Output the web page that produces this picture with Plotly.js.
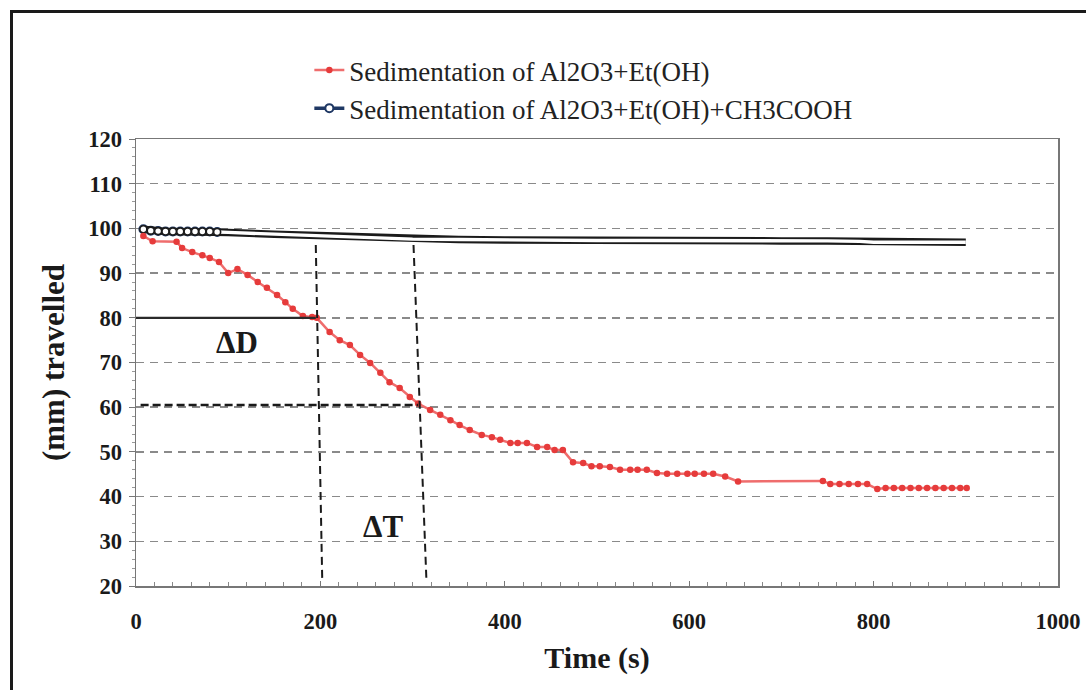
<!DOCTYPE html>
<html>
<head>
<meta charset="utf-8">
<script src="https://cdn.plot.ly/plotly-3.0.1.min.js"></script>
<style>
  html, body { margin: 0; padding: 0; background: #fff; }
  #chart { width: 1086px; height: 690px; }
</style>
</head>
<body>
<div id="chart"></div>
<script>
// ---- Data ----
const seriesNames = ["Sedimentation of Al2O3+Et(OH)", "Sedimentation of Al2O3+Et(OH)+CH3COOH"];

const redTime = [8, 18, 44, 50, 61, 72, 80, 90, 100, 110, 121, 132, 142, 153, 162, 170, 181, 191, 196,
  210, 221, 232, 243, 254, 265, 275, 286, 297, 306, 319, 330, 341, 351, 362, 375, 386, 395, 406, 414, 424,
  435, 446, 454, 463, 474, 485, 494, 503, 514, 525, 536, 544, 554, 565, 576, 587, 598, 606, 616, 626,
  639, 653, 745, 753, 763, 773, 783, 793, 804, 813, 822, 831, 840, 849, 858, 867, 876, 885, 894, 901];
const redDist = [98.3, 97.1, 97.0, 95.6, 94.7, 94.0, 93.4, 92.5, 90.0, 90.9, 89.6, 88.0, 86.7, 85.1, 83.5, 82.0, 80.4, 80.2, 80.0,
  76.8, 75.0, 73.9, 71.7, 69.9, 67.7, 65.6, 64.3, 62.3, 60.8, 59.4, 58.3, 57.1, 56.0, 54.9, 53.8, 53.3, 52.7, 52.0, 52.0, 52.0,
  51.1, 51.1, 50.4, 50.4, 47.7, 47.5, 46.8, 46.8, 46.6, 46.0, 46.0, 46.0, 46.0, 45.3, 45.1, 45.1, 45.1, 45.1, 45.1, 45.1,
  44.5, 43.4, 43.5, 42.8, 42.8, 42.8, 42.8, 42.8, 41.7, 41.9, 41.9, 41.9, 41.9, 41.9, 41.9, 41.9, 41.9, 41.9, 41.9, 41.9];

const acidTime = [8, 16, 24, 32, 40, 48, 56, 64, 72, 80, 88, 100, 150, 200, 250, 300, 350, 400, 450, 500,
  550, 600, 650, 700, 750, 785, 800, 850, 900];
const acidDist = [99.8, 99.5, 99.4, 99.3, 99.3, 99.3, 99.3, 99.3, 99.3, 99.3, 99.2, 99.1, 98.7, 98.3, 97.9, 97.6, 97.5, 97.4, 97.3, 97.3,
  97.3, 97.3, 97.2, 97.2, 97.2, 97.1, 96.9, 96.9, 96.9];
const acidMarkedCount = 11; // open circles drawn at the start of the acid series

// guide lines drawn on the chart (ΔD / ΔT construction)
const guideLevelD = 80;
const guideLevelT = 60.5;
const guideTimesTop = [195, 301];
const guideTimesBottom = [202, 315];
const guideTopDist = 96.3;
const guideBottomDist = 21.3;
const labelD = {text: "ΔD", t: 110, d: 74.4};
const labelT = {text: "ΔT", t: 268, d: 33.4};

// ---- Styling ----
const serif = '"Liberation Serif", "Times New Roman", "DejaVu Serif", serif';
const acidEarlyT = acidTime.slice(0, acidMarkedCount);
const acidEarlyD = acidDist.slice(0, acidMarkedCount);

const traces = [
  {
    x: acidEarlyT, y: acidEarlyD, name: seriesNames[1], mode: "lines+markers",
    line: {color: "#1f3864", width: 3.5},
    marker: {symbol: "circle", size: 8, color: "#ffffff", line: {color: "#1f3864", width: 2}},
    legendrank: 2
  },
  {
    x: acidTime, y: acidDist, mode: "lines", showlegend: false, hoverinfo: "skip",
    line: {color: "#1b1b1b", width: 7.5}
  },
  {
    x: acidTime, y: acidDist, mode: "lines", showlegend: false, hoverinfo: "skip",
    line: {color: "#ffffff", width: 3.4}
  },
  {
    x: acidEarlyT, y: acidEarlyD, mode: "markers", showlegend: false,
    marker: {symbol: "circle", size: 7, color: "#ffffff", line: {color: "#1b1b1b", width: 1.6}}
  },
  {
    x: redTime, y: redDist, name: seriesNames[0], mode: "lines+markers",
    line: {color: "#ef6d6d", width: 2.5},
    marker: {symbol: "circle", size: 6.5, color: "#e63b3b"},
    legendrank: 1
  }
];

const shapes = [
  {type: "rect", xref: "paper", yref: "paper",
   x0: (11.5 - 136) / 922, x1: 1.2, y0: -0.5, y1: 1 + (139 - 11.5) / 447,
   line: {color: "#1a1a1a", width: 3}, fillcolor: "rgba(0,0,0,0)", layer: "below"},
  {type: "line", xref: "x", yref: "y", x0: 0, x1: guideTimesTop[0], y0: guideLevelD, y1: guideLevelD,
   line: {color: "#2a2a2a", width: 2.2}},
  {type: "line", xref: "x", yref: "y", x0: 5, x1: guideTimesBottom[1] - 9, y0: guideLevelT, y1: guideLevelT,
   line: {color: "#1a1a1a", width: 2.4, dash: "8px,4px"}},
  {type: "line", xref: "x", yref: "y", x0: guideTimesTop[0], x1: guideTimesBottom[0], y0: guideTopDist, y1: guideBottomDist,
   line: {color: "#1a1a1a", width: 2, dash: "8px,5px"}},
  {type: "line", xref: "x", yref: "y", x0: guideTimesTop[1], x1: guideTimesBottom[1], y0: guideTopDist, y1: guideBottomDist,
   line: {color: "#1a1a1a", width: 2, dash: "8px,5px"}}
];

const annotations = [labelD, labelT].map(l => ({
  x: l.t, y: l.d, xref: "x", yref: "y", text: l.text, showarrow: false,
  font: {family: serif, size: 31, color: "#1a1a1a", weight: 700}
}));

const tickFont = {family: serif, size: 22.5, color: "#1a1a1a", weight: 700};

const layout = {
  width: 1086, height: 690,
  margin: {l: 136, r: 28, t: 139, b: 104},
  paper_bgcolor: "#ffffff", plot_bgcolor: "#ffffff",
  showlegend: true,
  legend: {
    x: 0.188, y: 1 + (139 - 46) / 447, xanchor: "left", yanchor: "top",
    bgcolor: "rgba(0,0,0,0)", borderwidth: 0,
    font: {family: serif, size: 27, color: "#222"},
    traceorder: "normal", tracegroupgap: 0
  },
  xaxis: {
    range: [0, 1000], tickvals: [0, 200, 400, 600, 800, 1000],
    showgrid: false, zeroline: false,
    showline: true, linecolor: "#777", linewidth: 1.5, mirror: true,
    ticks: "inside", ticklen: 5, tickcolor: "#777",
    minor: {dtick: 20, ticks: "inside", ticklen: 4, tickcolor: "#888", showgrid: false},
    tickfont: tickFont, ticklabelstandoff: 14,
    title: {text: "Time (s)", font: {family: serif, size: 30, color: "#1a1a1a", weight: 700}, standoff: 14}
  },
  yaxis: {
    range: [20, 120], dtick: 10,
    showgrid: true, gridcolor: "#8a8a8a", gridwidth: 1.5, griddash: "8px,6px",
    zeroline: false,
    showline: true, linecolor: "#777", linewidth: 1.5, mirror: true,
    ticks: "outside", ticklen: 6, tickcolor: "#777",
    minor: {dtick: 2, ticks: "outside", ticklen: 3, tickcolor: "#999", showgrid: false},
    tickfont: tickFont, ticklabelstandoff: 2,
    title: {text: "(mm) travelled", font: {family: serif, size: 31, color: "#1a1a1a", weight: 700}, standoff: 14}
  },
  shapes: shapes,
  annotations: annotations
};

Plotly.newPlot("chart", traces, layout, {displayModeBar: false, staticPlot: true});
</script>
</body>
</html>
